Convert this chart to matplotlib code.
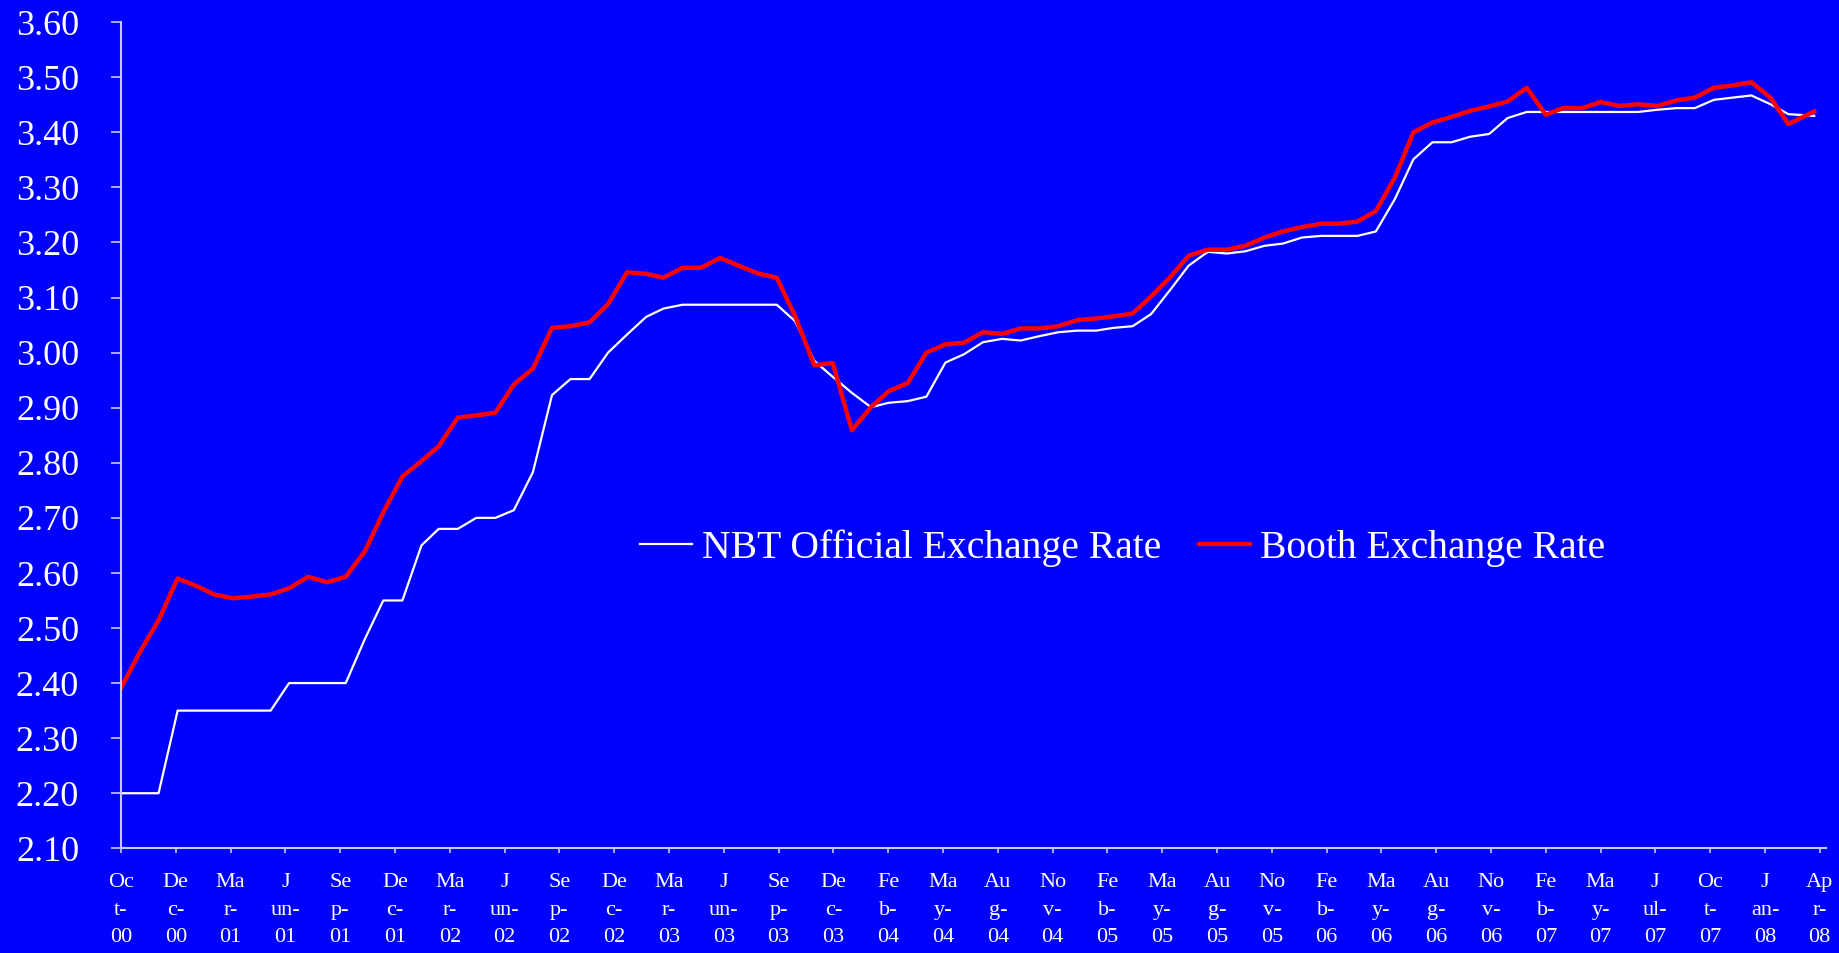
import numpy as np
import pandas as pd
import matplotlib
matplotlib.use("Agg")
import matplotlib.pyplot as plt
import matplotlib.dates as mdates

# monthly observations, Oct-2000 .. Apr-2008 (last reading taken mid April)
dates = pd.date_range("2000-10-01", "2008-03-01", freq="MS").append(pd.DatetimeIndex(["2008-04-12"]))

nbt_rate = [
    2.20, 2.20, 2.20, 2.35, 2.35, 2.35, 2.35, 2.35, 2.35, 2.40,
    2.40, 2.40, 2.40, 2.48, 2.55, 2.55, 2.65, 2.68, 2.68, 2.70,
    2.70, 2.714, 2.783, 2.923, 2.952, 2.952, 3.000, 3.033, 3.065, 3.080,
    3.087, 3.087, 3.087, 3.087, 3.087, 3.087, 3.057, 2.985, 2.956, 2.927,
    2.901, 2.909, 2.912, 2.920, 2.982, 2.997, 3.019, 3.025, 3.022, 3.030,
    3.037, 3.040, 3.040, 3.045, 3.048, 3.070, 3.114, 3.158, 3.183, 3.180,
    3.184, 3.194, 3.198, 3.209, 3.212, 3.212, 3.212, 3.220, 3.279, 3.351,
    3.382, 3.382, 3.392, 3.397, 3.426, 3.437, 3.437, 3.437, 3.437, 3.437,
    3.437, 3.437, 3.441, 3.444, 3.444, 3.459, 3.463, 3.467, 3.451, 3.433,
    3.430,
]

booth_rate = [
    2.391, 2.457, 2.514, 2.590, 2.576, 2.561, 2.554, 2.557, 2.561, 2.572,
    2.593, 2.583, 2.593, 2.639, 2.710, 2.775, 2.803, 2.830, 2.882, 2.886,
    2.891, 2.942, 2.971, 3.045, 3.048, 3.055, 3.088, 3.146, 3.143, 3.136,
    3.154, 3.154, 3.172, 3.158, 3.144, 3.136, 3.066, 2.977, 2.981, 2.859,
    2.901, 2.930, 2.945, 3.000, 3.015, 3.018, 3.037, 3.034, 3.044, 3.044,
    3.048, 3.059, 3.062, 3.066, 3.071, 3.102, 3.137, 3.176, 3.187, 3.187,
    3.194, 3.209, 3.220, 3.228, 3.234, 3.234, 3.238, 3.257, 3.318, 3.400,
    3.418, 3.428, 3.439, 3.447, 3.456, 3.481, 3.432, 3.444, 3.444, 3.455,
    3.448, 3.451, 3.448, 3.458, 3.463, 3.481, 3.485, 3.491, 3.463, 3.415,
    3.438,
]

# excel-style wrapped date labels
tick_labels = [
    "Oc\nt-\n00", "De\nc-\n00", "Ma\nr-\n01", "J\nun-\n01", "Se\np-\n01",
    "De\nc-\n01", "Ma\nr-\n02", "J\nun-\n02", "Se\np-\n02", "De\nc-\n02",
    "Ma\nr-\n03", "J\nun-\n03", "Se\np-\n03", "De\nc-\n03", "Fe\nb-\n04",
    "Ma\ny-\n04", "Au\ng-\n04", "No\nv-\n04", "Fe\nb-\n05", "Ma\ny-\n05",
    "Au\ng-\n05", "No\nv-\n05", "Fe\nb-\n06", "Ma\ny-\n06", "Au\ng-\n06",
    "No\nv-\n06", "Fe\nb-\n07", "Ma\ny-\n07", "J\nul-\n07", "Oc\nt-\n07",
    "J\nan-\n08", "Ap\nr-\n08",
]

BLUE = "#0000ff"
AXIS = "#c8c8ff"

plt.rcParams["font.family"] = ["Liberation Serif", "DejaVu Serif"]

fig = plt.figure(figsize=(18.39, 9.531), dpi=100, facecolor=BLUE)
ax = fig.add_axes([0.0658, 0.10986, 0.92708, 0.86674], facecolor=BLUE)

ax.plot(dates, nbt_rate, color="white", lw=1.6, label="NBT Official Exchange Rate")
ax.plot(dates, booth_rate, color="#ff0000", lw=3.2, label="Booth Exchange Rate")

start = pd.Timestamp("2000-10-01")
tick_pos = [mdates.date2num(start + pd.Timedelta(days=89 * k)) for k in range(len(tick_labels))]
ax.set_xticks(tick_pos)
ax.set_xticklabels(tick_labels, linespacing=1.62)
ax.set_xlim(mdates.date2num(start), mdates.date2num(pd.Timestamp("2008-05-01")))

ax.set_ylim(2.10, 3.60)
ax.set_yticks(np.arange(2.10, 3.601, 0.10))
ax.yaxis.set_major_formatter(matplotlib.ticker.FormatStrFormatter("%.2f"))

for side in ["top", "right"]:
    ax.spines[side].set_visible(False)
for side in ["left", "bottom"]:
    ax.spines[side].set_color(AXIS)
    ax.spines[side].set_linewidth(1.5)

ax.tick_params(axis="x", colors=AXIS, labelcolor="white", labelsize=16,
               length=3.6, width=1.2, pad=14, direction="out")
ax.tick_params(axis="y", colors=AXIS, labelcolor="white", labelsize=26,
               length=7.2, width=1.2, pad=23, direction="out")

leg = ax.legend(loc="center", bbox_to_anchor=(0.5876, 0.3636), ncol=2, frameon=False,
                fontsize=28.5, handlelength=1.3, handletextpad=0.25, columnspacing=0.95,
                labelcolor="white")

fig.savefig("out.png", dpi=100, facecolor=BLUE)
